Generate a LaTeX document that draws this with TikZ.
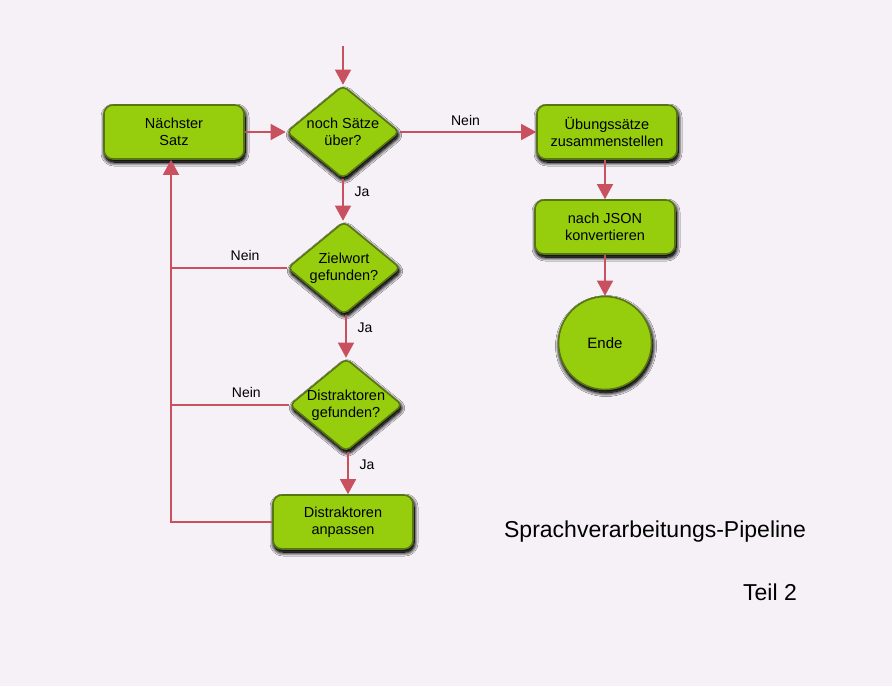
\documentclass[tikz,border=0pt]{standalone}
\usepackage{fontspec}
\setmainfont{Liberation Sans}
\usetikzlibrary{arrows.meta,shapes.geometric,shadows.blur}
\definecolor{bg}{HTML}{F5F1F6}
\definecolor{boxfill}{HTML}{96CE0E}
\definecolor{boxline}{HTML}{587513}
\definecolor{arrcol}{HTML}{C9505F}
\tikzset{
  shade3/.style={blur shadow={shadow blur steps=12, shadow xshift=1pt, shadow yshift=-3pt, shadow blur radius=7pt, shadow opacity=100},
                 blur shadow={shadow blur steps=10, shadow xshift=1pt, shadow yshift=-3pt, shadow blur radius=4pt, shadow opacity=100}},
  procbox/.style={rectangle, rounded corners=9pt, draw=boxline, line width=1.6pt, fill=boxfill, shade3, minimum width=140pt, minimum height=54pt, align=center, font=\fontsize{14.5}{17.5}\selectfont},
  decision/.style={diamond, rounded corners=5pt, draw=boxline, line width=1.6pt, fill=boxfill, shade3, minimum width=113pt, minimum height=93pt, inner sep=0pt},
  dtext/.style={align=center, font=\fontsize{14.5}{17.5}\selectfont},
  endnode/.style={circle, draw=boxline, line width=1.6pt, fill=boxfill, shade3, minimum size=93pt, font=\fontsize{15}{18}\selectfont},
  arr/.style={draw=arrcol, line width=1.4pt, -{Triangle[length=15pt,width=16pt]}},
  ln/.style={draw=arrcol, line width=1.4pt},
  lbl/.style={font=\fontsize{14}{17}\selectfont, inner sep=2pt}
}
\begin{document}
\begin{tikzpicture}[x=1pt,y=-1pt]
\useasboundingbox (0,0) rectangle (892,686);
\fill[bg] (0,0) rectangle (892,686);

\node[procbox] (next) at (174,132) {Nächster\\Satz};
\node[decision] (d1) at (343,132) {};
\node[dtext] (d1t) at (d1.center) {noch Sätze\\über?};
\node[procbox] (ueb) at (607,132) {Übungssätze\\zusammenstellen};
\node[procbox] (json) at (605,227) {nach JSON\\konvertieren};
\node[endnode] (ende) at (605,343) {Ende};
\node[decision] (d2) at (344,268) {};
\node[dtext] (d2t) at (d2.center) {Zielwort\\gefunden?};
\node[decision] (d3) at (346,405) {};
\node[dtext] (d3t) at (d3.center) {Distraktoren\\gefunden?};
\node[procbox] (anp) at (343,522) {Distraktoren\\anpassen};

\coordinate (start) at (343,46);
\coordinate (lc) at (171,522);

\draw[arr] (start) -- (d1.north);
\draw[arr] (next.east) -- (d1.west);
\draw[arr] (d1.east) -- node[lbl, above, pos=0.48, yshift=4pt] {Nein} (ueb.west);
\draw[arr] (d1.south) -- node[lbl, right, pos=0.3, xshift=9pt] {Ja} (d1.south |- d2.north);
\draw[arr] ([xshift=2pt]d2.south) -- node[lbl, right, pos=0.3, xshift=9pt] {Ja} ([xshift=2pt]d2.south |- d3.north);
\draw[arr] ([xshift=2pt]d3.south) -- node[lbl, right, pos=0.3, xshift=9pt] {Ja} ([xshift=2pt]d3.south |- anp.north);
\draw[arr] (ueb.south -| json.north) -- (json.north);
\draw[arr] (json.south) -- (ende.north);

\draw[ln] (d2.west) -- node[lbl, above, pos=0.36, yshift=5pt] {Nein} (d2.west -| lc);
\draw[ln] (d3.west) -- node[lbl, above, pos=0.36, yshift=5pt] {Nein} (d3.west -| lc);
\draw[arr] (anp.west) -- (lc) -- (lc |- next.south);

\node[font=\fontsize{23}{27}\selectfont] (title) at (655,532) {Sprachverarbeitungs-Pipeline};
\node[font=\fontsize{23}{27}\selectfont] (teil) at (770,592) {Teil 2};
\end{tikzpicture}
\end{document}
